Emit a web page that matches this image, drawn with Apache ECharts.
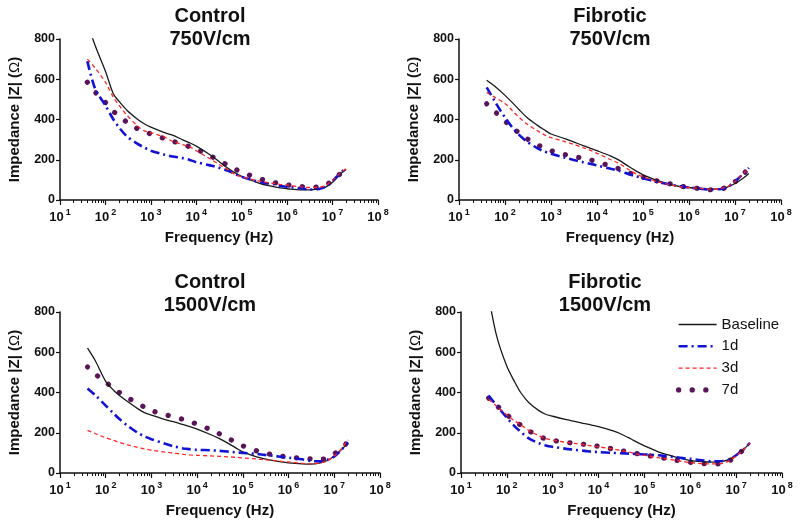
<!DOCTYPE html>
<html><head><meta charset="utf-8">
<script src="https://cdn.jsdelivr.net/npm/echarts@6/dist/echarts.min.js"></script>
<style>html,body{margin:0;padding:0;background:#fff}#c{width:800px;height:525px}</style>
</head><body><div id="c"></div>
<script>
// Frequencies (Hz)
const freqHz = [40,60,100,150,200,300,500,700,1e3,2e3,3e3,5e3,7e3,1e4,2e4,3e4,5e4,7e4,1e5,2e5,3e5,5e5,7e5,1e6,2e6,3e6,5e6,7e6,1e7,1.5e7,2e7];
const xTickExponents = [1,2,3,4,5,6,7,8];
const yTicks = [0,200,400,600,800];
const seriesNames = ['Baseline','1d','3d','7d'];
const panelTitles = ['Control\n750V/cm','Fibrotic\n750V/cm','Control\n1500V/cm','Fibrotic\n1500V/cm'];

// Control 750V/cm
const c750Baseline = [880,765,640,527,490,445,403,380,362,335,322,299,285,268,225,195,158,136,118,90,77,67,60,56,50,50,55,64,88,130,152];
const c750D1 = [690,550,470,400,360,315,280,262,245,225,216,208,200,188,172,162,145,130,115,95,86,78,70,66,58,52,55,66,95,135,160];
const c750D3 = [700,655,585,510,470,420,370,345,335,312,292,275,265,245,205,180,150,128,115,98,90,82,78,74,65,62,63,72,98,135,158];
const c750D7 = [585,535,485,440,420,385,355,342,328,305,292,278,265,252,220,200,172,155,138,113,100,88,80,75,67,63,65,73,98,132,160];
// Fibrotic 750V/cm
const f750Baseline = [595,565,520,480,450,410,372,350,328,305,290,270,258,245,218,198,165,145,125,98,85,72,66,62,57,54,56,65,82,108,132];
const f750D1 = [560,490,410,355,325,290,258,242,230,210,200,188,180,172,155,145,128,118,108,90,82,72,67,62,55,52,55,66,92,130,160];
const f750D3 = [535,510,480,440,412,378,345,325,310,290,278,260,248,232,200,182,150,130,115,92,82,70,65,62,57,54,58,68,92,130,158];
const f750D7 = [478,440,392,355,335,305,275,260,245,226,216,208,200,190,168,155,135,122,113,95,86,75,68,63,55,51,55,66,90,128,158];
// Control 1500V/cm
const c1500Baseline = [620,555,455,410,385,355,320,300,288,265,255,240,230,218,190,172,145,125,105,80,70,60,55,50,45,44,50,62,85,120,150];
const c1500D1 = [420,385,335,295,268,235,200,182,168,145,133,122,118,115,113,110,106,103,100,95,90,85,80,76,68,60,58,65,82,120,152];
const c1500D3 = [212,195,175,162,152,140,127,120,113,104,99,93,90,88,85,83,80,78,75,70,66,62,58,55,48,45,50,60,85,125,165];
const c1500D7 = [527,490,452,418,400,375,345,328,310,290,280,266,256,242,215,196,170,152,135,110,98,90,84,80,72,70,67,75,95,128,155];
// Fibrotic 1500V/cm
const f1500Baseline = [880,680,530,450,400,350,310,292,282,265,257,245,238,230,210,195,170,152,135,105,92,78,70,62,56,54,58,66,88,120,150];
const f1500D1 = [385,335,275,230,205,172,148,137,130,120,115,110,106,104,100,98,96,94,92,88,84,78,74,70,62,58,60,66,88,120,150];
const f1500D3 = [365,332,288,258,240,212,185,172,164,152,147,140,135,130,120,112,102,94,88,76,70,62,57,52,46,45,48,60,85,120,150];
const f1500D7 = [372,335,290,255,238,210,182,170,162,152,148,142,137,132,120,112,103,96,90,78,72,63,58,53,46,45,48,60,85,120,150];

const panels = [
  [c750Baseline,c750D1,c750D3,c750D7],
  [f750Baseline,f750D1,f750D3,f750D7],
  [c1500Baseline,c1500D1,c1500D3,c1500D7],
  [f1500Baseline,f1500D1,f1500D3,f1500D7]
];

const grids = [
  {left:60, top:39, width:318, height:161},
  {left:459, top:39, width:322, height:161},
  {left:60, top:312, width:320, height:161},
  {left:461, top:312, width:321, height:161}
];
const titlePos = [[210,5],[610,5],[210,271],[605,271]];

const styles = [
  {color:'#1a1a1a', width:1.3, type:'solid'},
  {color:'#1212d4', width:2.6, type:[9,4,2,4]},
  {color:'#ff2424', width:1.3, type:[4,3]},
  {color:'#5a1458', width:5.2, type:[0.1,13.5], cap:'round'}
];

const minorVals = [];
for (let n = 1; n < 8; n++) for (let k = 2; k <= 9; k++) minorVals.push(Math.log10(k * Math.pow(10, n)));

const FONT = 'Liberation Sans, Arial, sans-serif';
const option = {
  animation:false,
  backgroundColor:'#fff',
  title: panelTitles.map((t,i)=>({
    text:t, left:titlePos[i][0], top:titlePos[i][1], textAlign:'center', padding:0,
    textStyle:{fontFamily:FONT, fontSize:20, fontWeight:'bold', color:'#111', lineHeight:23}
  })),
  grid: grids,
  xAxis: [],
  yAxis: [],
  series: [],
  legend: {
    orient:'vertical', left:671, top:312, itemWidth:38, itemHeight:14, itemGap:6.8,
    itemStyle:{opacity:0},
    textStyle:{fontFamily:FONT, fontSize:15, color:'#111', padding:[0,0,0,0]},
    data: seriesNames.map((n,s)=>({name:n, lineStyle:{width:styles[s].width, type:styles[s].type, cap:styles[s].cap||'butt', color:styles[s].color}}))
  }
};

grids.forEach((g,i)=>{
  option.xAxis.push({
    type:'value', gridIndex:i, min:1, max:8, interval:1, position:'bottom',
    name:'Frequency (Hz)', nameLocation:'middle', nameGap:30,
    nameTextStyle:{fontFamily:FONT, fontSize:15, fontWeight:'bold', color:'#111'},
    axisLine:{lineStyle:{color:'#111', width:1.5}},
    axisTick:{length:5, lineStyle:{color:'#111', width:1.2}},
    splitLine:{show:false},
    axisLabel:{
      margin:8,
      formatter:(v)=>'{b|10}{s|'+Math.round(v)+'}',
      rich:{
        b:{fontFamily:FONT, fontSize:13, fontWeight:'bold', color:'#111', lineHeight:16, verticalAlign:'bottom'},
        s:{fontFamily:FONT, fontSize:9, fontWeight:'bold', color:'#111', lineHeight:16, verticalAlign:'top', padding:[0,0,0,2]}
      }
    }
  });
  option.xAxis.push({
    type:'value', gridIndex:i, min:1, max:8, interval:1, position:'bottom',
    axisLine:{show:false}, axisLabel:{show:false}, splitLine:{show:false},
    axisTick:{show:true, length:3, customValues:minorVals, lineStyle:{color:'#111', width:1}}
  });
  option.yAxis.push({
    type:'value', gridIndex:i, min:0, max:800, interval:200,
    name:'{b|Impedance |Z| (}{o|Ω}{b|)}', nameLocation:'middle', nameGap:38,
    nameTextStyle:{rich:{
      b:{fontFamily:FONT, fontSize:15, fontWeight:'bold', color:'#111'},
      o:{fontFamily:FONT, fontSize:15, fontWeight:'normal', color:'#111'}
    }},
    axisLine:{show:true, lineStyle:{color:'#111', width:1.5}},
    axisTick:{show:true, length:4, lineStyle:{color:'#111', width:1.2}},
    splitLine:{show:false},
    axisLabel:{fontFamily:FONT, fontSize:12.5, fontWeight:'bold', color:'#111', margin:5}
  });
  panels[i].forEach((vals,s)=>{
    const st = styles[s];
    option.series.push({
      name:seriesNames[s], type:'line', xAxisIndex:i*2, yAxisIndex:i,
      data: freqHz.map((f,j)=>[Math.log10(f), vals[j]]),
      symbol:'none', smooth:0.3, clip:true,
      z: s===3 ? 1 : 2,
      itemStyle:{color:st.color},
      lineStyle:{color:st.color, width:st.width, type:st.type, cap:st.cap||'butt'}
    });
  });
});

const chart = echarts.init(document.getElementById('c'), null, {renderer:'canvas'});
chart.setOption(option);
</script>
</body></html>
